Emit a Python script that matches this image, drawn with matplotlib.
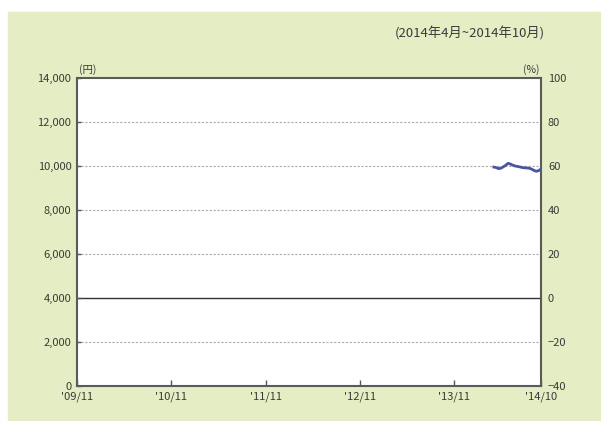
import matplotlib
matplotlib.use("Agg")
import matplotlib.pyplot as plt
from matplotlib.patches import Rectangle

plt.rcParams['font.family'] = ['Noto Sans CJK JP', 'DejaVu Sans']

# data: month index counted from 2009/11 (0) ; 2014/10 = 59
month_idx = [53.0, 53.3, 53.6, 53.9, 54.2, 54.5, 54.8, 55.1, 55.4, 55.7,
             56.0, 56.3, 56.6, 56.9, 57.2, 57.5, 57.8, 58.1, 58.4, 58.7, 59.0]
price = [9950, 9930, 9880, 9900, 9960, 10030, 10120, 10090, 10040, 10000,
         9980, 9960, 9930, 9920, 9910, 9900, 9860, 9800, 9760, 9790, 9860]

xtick_pos = [0, 12, 24, 36, 48, 59]
xtick_labels = ["'09/11", "'10/11", "'11/11", "'12/11", "'13/11", "'14/10"]
left_ticks = [0, 2000, 4000, 6000, 8000, 10000, 12000, 14000]
right_ticks = [-40, -20, 0, 20, 40, 60, 80, 100]

W, H = 601, 421
fig = plt.figure(figsize=(W / 100, H / 100), dpi=100)
fig.patch.set_facecolor('white')
bg = '#e4edc3'
fig.patches.append(Rectangle((8 / W, 0), 1 - 8 / W, 1 - 12 / H,
                             transform=fig.transFigure, color=bg, zorder=-10))

ax = fig.add_axes([77 / W, 1 - 386 / H, (541 - 77) / W, (386 - 78) / H])
ax.set_facecolor('white')
txt = '#3a3a3a'

for v in [2000, 6000, 8000, 10000, 12000]:
    ax.axhline(v, color='#aaaaaa', lw=0.8, ls=(0, (2, 1.5)), zorder=1)
ax.axhline(4000, color='#333333', lw=1.0, zorder=1)

ax.plot(month_idx, price, color='#4a55a2', lw=2.0, zorder=3)

ax.set_xlim(0, 59)
ax.set_ylim(0, 14000)
ax.set_xticks(xtick_pos)
ax.set_xticklabels(xtick_labels)
ax.set_yticks(left_ticks)
ax.set_yticklabels([f"{v:,}" for v in left_ticks])
ax.tick_params(axis='both', direction='in', length=4, width=1, color='#555555',
               labelsize=8, labelcolor=txt)
ax.tick_params(axis='x', pad=4)
ax.tick_params(axis='y', pad=4, length=3)
for s in ax.spines.values():
    s.set_color('#5a5a5a')
    s.set_linewidth(1.5)

ax2 = ax.twinx()
ax2.set_ylim(-40, 100)
ax2.set_yticks(right_ticks)
ax2.tick_params(axis='y', direction='in', length=0, labelsize=8, labelcolor=txt, pad=5)
for s in ax2.spines.values():
    s.set_visible(False)

fig.text(545 / W, 1 - 34 / H, "(2014年4月~2014年10月)", ha='right', va='center',
         fontsize=9.5, color=txt)
fig.text(79 / W, 1 - 70 / H, "(円)", ha='left', va='center', fontsize=7.5, color=txt)
fig.text(539 / W, 1 - 70 / H, "(%)", ha='right', va='center', fontsize=7.5, color=txt)

fig.savefig('out.png', dpi=100, facecolor=fig.get_facecolor())
